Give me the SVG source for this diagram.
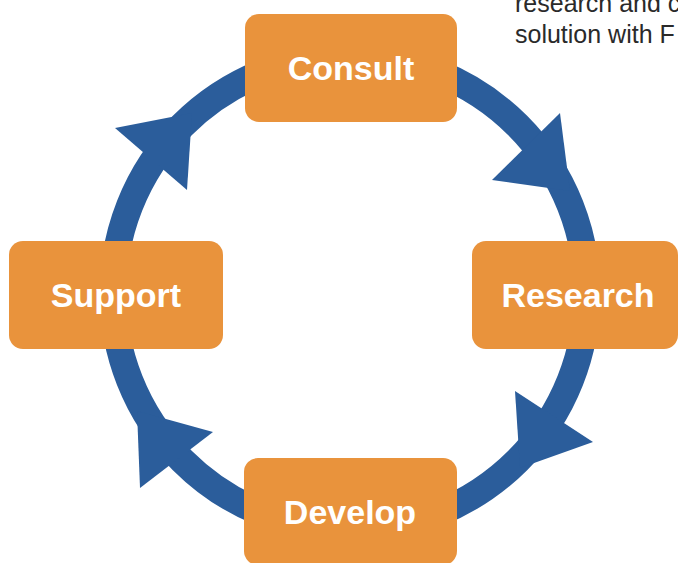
<svg xmlns="http://www.w3.org/2000/svg" width="678" height="563" viewBox="0 0 678 563">
<style>
.box{fill:#E9933C;}
.lbl{font-family:"Liberation Sans",Arial,sans-serif;font-weight:bold;font-size:34px;fill:#FFFFFF;text-anchor:middle;}
.ring{fill:none;stroke:#2B5D9B;stroke-width:27;}
.head{fill:#2B5D9B;}
.note{font-family:"Liberation Sans",Arial,sans-serif;font-size:25px;fill:#2A2A2A;}
</style>
<rect width="678" height="563" fill="#FFFFFF"/>
<g id="connectors">
<circle class="ring" cx="350" cy="293" r="237"/>
<polygon class="head" points="115,128 192,113 187,190"/>
<polygon class="head" points="560,113 570,191 492,180"/>
<polygon class="head" points="593,442 520,468 515,391"/>
<polygon class="head" points="140,488 137,411 213,432"/>
</g>
<g id="consult">
<rect class="box" x="245" y="14" width="212" height="108" rx="14"/>
<text class="lbl" x="351" y="80">Consult</text>
</g>
<g id="research">
<rect class="box" x="472" y="241" width="206" height="108" rx="14"/>
<text class="lbl" x="578" y="307">Research</text>
</g>
<g id="develop">
<rect class="box" x="244" y="458" width="213" height="107" rx="14"/>
<text class="lbl" x="350" y="524">Develop</text>
</g>
<g id="support">
<rect class="box" x="9" y="241" width="214" height="108" rx="14"/>
<text class="lbl" x="116" y="307">Support</text>
</g>
<g id="note">
<text class="note" x="515" y="12">research and c</text>
<text class="note" x="515" y="43">solution with F</text>
</g>
</svg>
